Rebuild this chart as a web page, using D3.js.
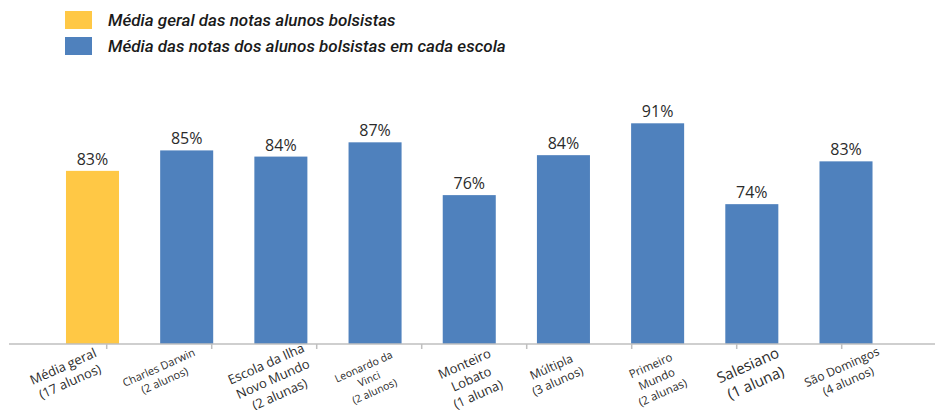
<!DOCTYPE html>
<html>
<head>
<meta charset="utf-8">
<script src="https://cdn.jsdelivr.net/npm/d3@7"></script>
<style>
  html, body { margin: 0; padding: 0; background: #fff; }
  svg { display: block; }
</style>
</head>
<body>
<svg id="chart" width="935" height="410"></svg>
<script>
// ---- data ----
const categories = [
  ["Média geral", "(17 alunos)"],
  ["Charles Darwin", "(2 alunos)"],
  ["Escola da Ilha", "Novo Mundo", "(2 alunas)"],
  ["Leonardo da", "Vinci", "(2 alunos)"],
  ["Monteiro", "Lobato", "(1 aluna)"],
  ["Múltipla", "(3 alunos)"],
  ["Primeiro", "Mundo", "(2 alunas)"],
  ["Salesiano", "(1 aluna)"],
  ["São Domingos", "(4 alunos)"]
];
const barValues = [81, 85.3, 84, 87, 75.9, 84.3, 91, 74, 83];
const valueLabels = ["83%", "85%", "84%", "87%", "76%", "84%", "91%", "74%", "83%"];
const seriesIndex = [0, 1, 1, 1, 1, 1, 1, 1, 1];
const legendLabels = [
  "Média geral das notas alunos bolsistas",
  "Média das notas dos alunos bolsistas em cada escola"
];

// ---- styles ----
const colors = ["#FFC845", "#4F81BD"];
const labelFontSizes = [13, 11, 13, 10.5, 13, 12, 11.5, 15, 12];
const labelDx = [-26, -25, -8, -6, 2, -9, -1, 0, -1];

const svg = d3.select("#chart");
const baseline = 344;

const x = d3.scaleBand()
  .domain(d3.range(categories.length))
  .range([45.4, 893.1])
  .paddingInner(0.437)
  .paddingOuter(0.2185);

const y = d3.scaleLinear().domain([44.6, 91]).range([baseline, 123.3]);

const tickScale = d3.scaleLinear().domain([0, 9]).range([1.7, 946.7]);

// legend
const legend = svg.append("g");
legendLabels.forEach((t, i) => {
  legend.append("rect")
    .attr("x", 65).attr("y", 11 + i * 26)
    .attr("width", 27).attr("height", 18)
    .attr("fill", colors[i]);
  legend.append("text")
    .attr("x", 108).attr("y", 26 + i * 26)
    .attr("font-family", "Roboto, sans-serif")
    .attr("font-style", "italic")
    .attr("font-weight", 500)
    .attr("font-size", 17)
    .attr("fill", "#1a1a1a")
    .text(t);
});

// bars
svg.append("g").selectAll("rect")
  .data(barValues)
  .join("rect")
  .attr("x", (d, i) => x(i))
  .attr("y", d => y(d))
  .attr("width", x.bandwidth())
  .attr("height", d => baseline - y(d))
  .attr("fill", (d, i) => colors[seriesIndex[i]]);

// value labels
svg.append("g").selectAll("text")
  .data(barValues)
  .join("text")
  .attr("x", (d, i) => x(i) + x.bandwidth() / 2)
  .attr("y", d => y(d) - 6)
  .attr("text-anchor", "middle")
  .attr("font-family", "'Open Sans', sans-serif")
  .attr("font-size", 16)
  .attr("font-weight", 500)
  .attr("fill", "#2b2b2b")
  .text((d, i) => valueLabels[i]);

// axis line + ticks
svg.append("line")
  .attr("x1", 9).attr("x2", 935)
  .attr("y1", baseline).attr("y2", baseline)
  .attr("stroke", "#bfbfbf").attr("stroke-width", 1.5);
svg.append("g").selectAll("line")
  .data(d3.range(1, 9))
  .join("line")
  .attr("x1", d => tickScale(d)).attr("x2", d => tickScale(d))
  .attr("y1", baseline).attr("y2", baseline + 5)
  .attr("stroke", "#bfbfbf").attr("stroke-width", 1.5);

// category labels
const lg = svg.append("g").selectAll("g")
  .data(categories)
  .join("g")
  .attr("transform", (d, i) => {
    const cx = x(i) + x.bandwidth() / 2 + labelDx[i];
    const cy = 374 + (d.length - 2) * 5;
    return `translate(${cx},${cy}) rotate(-24)`;
  });
lg.each(function(lines, i) {
  const fs = labelFontSizes[i];
  const lh = fs * 1.28;
  const t = d3.select(this).append("text")
    .attr("text-anchor", "middle")
    .attr("font-family", "'Open Sans', sans-serif")
    .attr("font-size", fs)
    .attr("font-weight", 500)
    .attr("fill", "#2b2b2b");
  lines.forEach((ln, k) => {
    t.append("tspan")
      .attr("x", 0)
      .attr("y", (k - (lines.length - 1) / 2) * lh + fs * 0.35)
      .text(ln);
  });
});
</script>
</body>
</html>
